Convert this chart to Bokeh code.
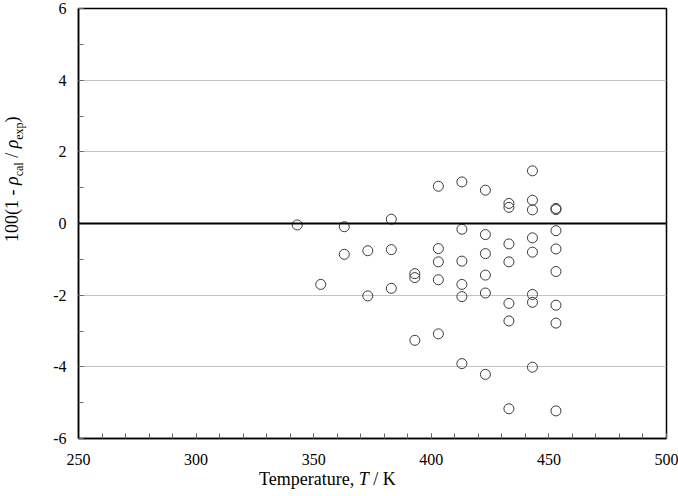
from bokeh.plotting import figure
from bokeh.layouts import row, column
from bokeh.models import (Span, SingleIntervalTicker, Range1d, ColumnDataSource, Div)
from bokeh.embed import file_html
from bokeh.resources import INLINE

# Relative density deviations, 100(1 - rho_cal / rho_exp), grouped by isotherm (K)
dev_343 = [-0.04]
dev_353 = [-1.70]
dev_363 = [-0.09, -0.86]
dev_373 = [-0.76, -2.02]
dev_383 = [0.12, -0.73, -1.81]
dev_393 = [-1.40, -1.51, -3.26]
dev_403 = [1.04, -0.70, -1.07, -1.57, -3.08]
dev_413 = [1.16, -0.16, -1.05, -1.70, -2.04, -3.91]
dev_423 = [0.93, -0.31, -0.84, -1.44, -1.94, -4.21]
dev_433 = [0.56, 0.45, -0.57, -1.07, -2.23, -2.72, -5.17]
dev_443 = [1.47, 0.65, 0.38, -0.40, -0.80, -1.98, -2.20, -4.01]
dev_453 = [0.42, 0.39, -0.20, -0.71, -1.34, -2.28, -2.78, -5.23]

temperatures = [343, 353, 363, 373, 383, 393, 403, 413, 423, 433, 443, 453]
deviations = [dev_343, dev_353, dev_363, dev_373, dev_383, dev_393,
              dev_403, dev_413, dev_423, dev_433, dev_443, dev_453]

y_tick_values = [-6, -4, -2, 0, 2, 4, 6]
y_tick_labels = ["-6", "-4", "-2", "0", "2", "4", "6"]

T_all, d_all = [], []
for t, ds in zip(temperatures, deviations):
    for d in ds:
        T_all.append(t)
        d_all.append(d)
src = ColumnDataSource(dict(T=T_all, dev=d_all))

SERIF = "Liberation Serif"
YDIV_W = 30          # strip holding the rotated y title
PW, PH = 678 - YDIV_W, 470
XDIV_H = 496 - PH

p = figure(width=PW, height=PH, output_backend="svg", toolbar_location=None,
           x_range=Range1d(250, 500), y_range=Range1d(-6, 6),
           min_border_left=78 - YDIV_W, min_border_right=12,
           min_border_top=8, min_border_bottom=PH - 438)
p.background_fill_color = "white"
p.border_fill_color = "white"
p.outline_line_color = "black"
p.outline_line_width = 1.5

p.xaxis.ticker = SingleIntervalTicker(interval=50, num_minor_ticks=5)
p.yaxis.ticker = SingleIntervalTicker(interval=2, num_minor_ticks=2)
p.yaxis.major_label_overrides = dict(zip(y_tick_values, y_tick_labels))

for axes in (p.xaxis, p.yaxis):
    axes.axis_line_color = "black"
    axes.axis_line_width = 1.5
    axes.major_tick_out = 0
    axes.major_tick_in = 5
    axes.minor_tick_out = 0
    axes.minor_tick_in = 5
    axes.major_tick_line_color = "#666666"
    axes.minor_tick_line_color = "#666666"
    axes.major_label_text_font = SERIF
    axes.major_label_text_font_size = "16px"
    axes.major_label_text_color = "black"
p.xaxis.major_label_standoff = 15
p.yaxis.major_label_standoff = 12

p.xgrid.grid_line_color = None
p.ygrid.grid_line_color = "#c4c4c4"
p.ygrid.grid_line_width = 1

p.add_layout(Span(location=0, dimension="width", line_color="black", line_width=2))

p.scatter("T", "dev", source=src, marker="circle", size=10,
          fill_color=None, line_color="#3a3a3a", line_width=1)

FONT_CSS = "font-family:'Liberation Serif'; font-size:18px; line-height:18px; color:black; white-space:nowrap;"
SUB = '<sub style="font-size:12px">{}</sub>'

y_title = Div(
    text=('<div style="display:inline-block; ' + FONT_CSS +
          ' transform-origin:0 0; transform:translate(3px,242px) rotate(-90deg);">'
          '100(1 - <i>\u03c1</i>' + SUB.format("cal") + ' / <i>\u03c1</i>' +
          SUB.format("exp") + ')</div>'),
    width=YDIV_W, height=PH, margin=0)

x_title = Div(
    text=('<div style="' + FONT_CSS + ' padding-left:259px;">'
          'Temperature, <i>T</i> / K</div>'),
    width=678, height=XDIV_H, margin=0)

layout = column(row(y_title, p, spacing=0), x_title, spacing=0)

open("out.html", "w").write(file_html(layout, INLINE))
